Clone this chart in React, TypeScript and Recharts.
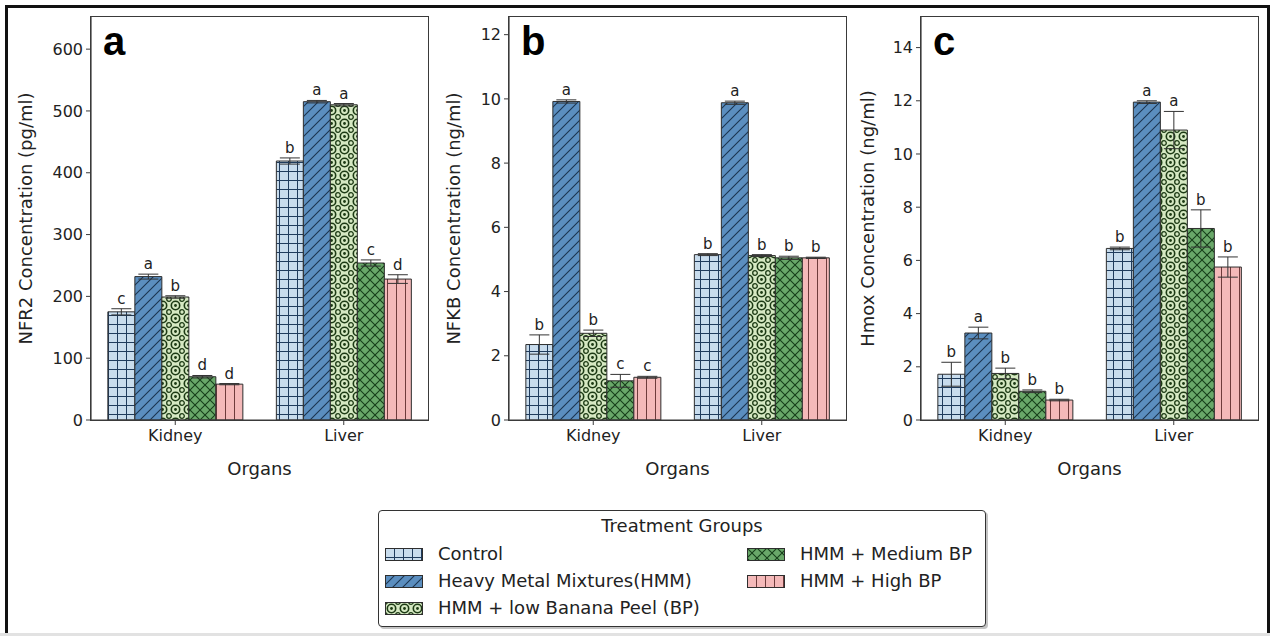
import React from "react";
import { BarChart, Bar, XAxis, YAxis, ErrorBar, LabelList } from "recharts";

const organs = ["Kidney", "Liver"];
const groupNames = [
  "Control",
  "Heavy Metal Mixtures(HMM)",
  "HMM + low Banana Peel (BP)",
  "HMM + Medium BP",
  "HMM + High BP",
];

// each entry is one treatment group: [Kidney, Liver]
const nfr2Means = [[175, 419], [232, 515], [199, 510], [70, 254], [58, 228]];
const nfr2Errors = [[5, 5], [4, 2], [2, 2], [2, 5], [1, 7]];
const nfr2Letters = [["c", "b"], ["a", "a"], ["b", "a"], ["d", "c"], ["d", "d"]];
const nfr2Ticks = [0, 100, 200, 300, 400, 500, 600];

const nfkbMeans = [[2.35, 5.15], [9.92, 9.88], [2.7, 5.12], [1.22, 5.05], [1.33, 5.05]];
const nfkbErrors = [[0.3, 0.03], [0.05, 0.05], [0.1, 0.03], [0.2, 0.05], [0.03, 0.02]];
const nfkbLetters = [["b", "b"], ["a", "a"], ["b", "b"], ["c", "b"], ["c", "b"]];
const nfkbTicks = [0, 2, 4, 6, 8, 10, 12];

const hmoxMeans = [[1.72, 6.45], [3.27, 11.95], [1.75, 10.9], [1.08, 7.2], [0.75, 5.75]];
const hmoxErrors = [[0.45, 0.05], [0.22, 0.05], [0.2, 0.7], [0.05, 0.7], [0.03, 0.38]];
const hmoxLetters = [["b", "b"], ["a", "a"], ["b", "a"], ["b", "b"], ["b", "b"]];
const hmoxTicks = [0, 2, 4, 6, 8, 10, 12, 14];

const FONT = "'DejaVu Sans', sans-serif";
const FRAME = "#3a3a3a";
const EDGE = "#2e2e2e";
const PLOT_W = 337;
const PLOT_TOP = 17;
const PLOT_H = 403;

function buildRows(means: number[][], errors: number[][], letters: string[][]) {
  return organs.map((organ, o) => {
    const row: any = { organ };
    groupNames.forEach((_, g) => {
      row[`m${g}`] = means[g][o];
      row[`e${g}`] = errors[g][o];
      row[`l${g}`] = letters[g][o];
    });
    return row;
  });
}

function Patterns() {
  return (
    <svg width={0} height={0} style={{ position: "absolute" }}>
      <defs>
        <pattern id="pat0" width={9} height={9} patternUnits="userSpaceOnUse">
          <rect width={9} height={9} fill="#c8dced" />
          <path d="M0 0.5 H9 M0.5 0 V9" stroke="#1f3b5c" strokeWidth={1} />
        </pattern>
        <pattern id="pat1" width={10} height={10} patternUnits="userSpaceOnUse">
          <rect width={10} height={10} fill="#5b8ebf" />
          <path d="M0 10 L10 0 M-2 2 L2 -2 M8 12 L12 8" stroke="#1b3451" strokeWidth={1.1} />
        </pattern>
        <pattern id="pat2" width={13} height={13} patternUnits="userSpaceOnUse">
          <rect width={13} height={13} fill="#d5e8c2" />
          <circle cx={6.5} cy={6.5} r={4.2} fill="none" stroke="#1c3a14" strokeWidth={1.6} />
          <circle cx={6.5} cy={6.5} r={1.4} fill="#1c3a14" />
          <circle cx={0} cy={0} r={2.3} fill="none" stroke="#1c3a14" strokeWidth={1.3} />
          <circle cx={13} cy={0} r={2.3} fill="none" stroke="#1c3a14" strokeWidth={1.3} />
          <circle cx={0} cy={13} r={2.3} fill="none" stroke="#1c3a14" strokeWidth={1.3} />
          <circle cx={13} cy={13} r={2.3} fill="none" stroke="#1c3a14" strokeWidth={1.3} />
        </pattern>
        <pattern id="pat3" width={10} height={10} patternUnits="userSpaceOnUse">
          <rect width={10} height={10} fill="#69a869" />
          <path d="M0 0 L10 10 M10 0 L0 10" stroke="#163f19" strokeWidth={1.1} />
        </pattern>
        <pattern id="pat4" width={9} height={9} patternUnits="userSpaceOnUse">
          <rect width={9} height={9} fill="#f4b9b9" />
          <path d="M0.5 0 V9" stroke="#6e3b3b" strokeWidth={1} />
        </pattern>
      </defs>
    </svg>
  );
}

const renderLetter = (p: any, rows: any[], g: number) => {
  const vb = p.viewBox && typeof p.viewBox.width === "number" ? p.viewBox : p;
  const row = rows[p.index];
  if (!row) return null;
  const h = Math.abs(vb.height);
  const top = Math.min(vb.y, vb.y + vb.height);
  const pxPerUnit = h / row[`m${g}`];
  const errTop = top - row[`e${g}`] * pxPerUnit;
  return (
    <text x={vb.x + vb.width / 2} y={errTop - 5} textAnchor="middle" fontSize={15} fill="#222" fontFamily={FONT}>
      {row[`l${g}`]}
    </text>
  );
};

interface PanelProps {
  left: number;
  axisWidth: number;
  titleX: number;
  rows: any[];
  ticks: number[];
  domainMax: number;
  yTitle: string;
  letter: string;
}

function Panel({ left, axisWidth, titleX, rows, ticks, domainMax, yTitle, letter }: PanelProps) {
  const width = axisWidth + PLOT_W + 2;

  const yLabel = (props: any) => {
    const vb = props.viewBox;
    const cx = vb.x + titleX;
    const cy = vb.y + vb.height / 2;
    return (
      <g>
        <text
          x={cx}
          y={cy}
          transform={`rotate(-90 ${cx} ${cy})`}
          textAnchor="middle"
          dominantBaseline="central"
          fontSize={18}
          fill="#222"
          fontFamily={FONT}
        >
          {yTitle}
        </text>
        <text
          x={vb.x + vb.width + 12}
          y={vb.y + 38}
          fontSize={40}
          fontWeight="bold"
          fill="#000"
          fontFamily="'Liberation Sans', Arial, sans-serif"
        >
          {letter}
        </text>
      </g>
    );
  };

  const xLabel = (props: any) => {
    const vb = props.viewBox;
    return (
      <text
        x={vb.x + vb.width / 2}
        y={vb.y + 48}
        textAnchor="middle"
        dominantBaseline="central"
        fontSize={18}
        fill="#222"
        fontFamily={FONT}
      >
        Organs
      </text>
    );
  };

  return (
    <div style={{ position: "absolute", left, top: 0 }}>
      <BarChart
        width={width}
        height={490}
        data={rows}
        margin={{ top: PLOT_TOP, right: 2, bottom: 0, left: 0 }}
        barCategoryGap="10%"
        barGap={0}
      >
        <XAxis
          dataKey="organ"
          height={70}
          tickSize={5}
          tickMargin={5}
          axisLine={{ stroke: FRAME, strokeWidth: 1.2 }}
          tickLine={{ stroke: FRAME }}
          tick={{ fill: "#222", fontSize: 16, fontFamily: FONT }}
          label={xLabel}
        />
        <YAxis
          type="number"
          domain={[0, domainMax]}
          ticks={ticks}
          width={axisWidth}
          tickSize={5}
          tickMargin={3}
          axisLine={{ stroke: FRAME, strokeWidth: 1.2 }}
          tickLine={{ stroke: FRAME }}
          tick={{ fill: "#222", fontSize: 16, fontFamily: FONT }}
          label={yLabel}
        />
        {groupNames.map((name, g) => (
          <Bar
            key={name}
            dataKey={`m${g}`}
            name={name}
            fill={`url(#pat${g})`}
            stroke={EDGE}
            strokeWidth={1}
            isAnimationActive={false}
          >
            <ErrorBar dataKey={`e${g}`} width={10} stroke="#333" strokeWidth={1} />
            <LabelList dataKey={`l${g}`} content={(p: any) => renderLetter(p, rows, g)} />
          </Bar>
        ))}
      </BarChart>
      <div
        style={{
          position: "absolute",
          left: axisWidth - 0.6,
          top: PLOT_TOP - 0.6,
          width: PLOT_W + 1.2,
          height: PLOT_H + 1.2,
          border: `1.2px solid ${FRAME}`,
          boxSizing: "border-box",
          pointerEvents: "none",
        }}
      />
    </div>
  );
}

function LegendBox() {
  const col1 = [0, 1, 2];
  const col2 = [3, 4];
  const rowY = [43, 70, 97];
  const item = (g: number, i: number, patchX: number, textX: number) => (
    <div key={g} style={{ position: "absolute", left: 0, top: rowY[i] - 11, height: 22, width: "100%" }}>
      <svg width={38} height={13} style={{ position: "absolute", left: patchX, top: 5 }}>
        <rect x={0.5} y={0.5} width={37} height={12} fill={`url(#pat${g})`} stroke={EDGE} strokeWidth={1} />
      </svg>
      <span style={{ position: "absolute", left: textX, top: 0, lineHeight: "22px", whiteSpace: "nowrap" }}>
        {groupNames[g]}
      </span>
    </div>
  );
  return (
    <div
      style={{
        position: "absolute",
        left: 378,
        top: 510,
        width: 606,
        height: 115,
        border: "1.5px solid #333",
        borderRadius: 4,
        boxShadow: "2px 2px 0 #c4c4c4",
        background: "#fff",
        fontFamily: FONT,
        fontSize: 18,
        color: "#222",
      }}
    >
      <div style={{ position: "absolute", left: 0, right: 0, top: 4, textAlign: "center", lineHeight: "22px" }}>
        Treatment Groups
      </div>
      {col1.map((g, i) => item(g, i, 6, 59))}
      {col2.map((g, i) => item(g, i, 368, 421))}
    </div>
  );
}

export default function App() {
  const nfr2Rows = buildRows(nfr2Means, nfr2Errors, nfr2Letters);
  const nfkbRows = buildRows(nfkbMeans, nfkbErrors, nfkbLetters);
  const hmoxRows = buildRows(hmoxMeans, hmoxErrors, hmoxLetters);

  return (
    <div style={{ position: "absolute", left: 0, top: 0, width: 1270, height: 636, background: "#fff", overflow: "hidden" }}>
      <Patterns />
      <div
        style={{
          position: "absolute",
          left: 5,
          top: 5,
          width: 1259,
          height: 628,
          borderTop: "3px solid #111",
          borderLeft: "3px solid #111",
          borderRight: "3px solid #111",
        }}
      />
      <div style={{ position: "absolute", left: 0, top: 633, width: 1270, height: 3, background: "#e2e2e2" }} />
      <Panel
        left={0}
        axisWidth={91}
        titleX={25}
        rows={nfr2Rows}
        ticks={nfr2Ticks}
        domainMax={652}
        yTitle="NFR2 Concentration (pg/ml)"
        letter="a"
      />
      <Panel
        left={430}
        axisWidth={79}
        titleX={23}
        rows={nfkbRows}
        ticks={nfkbTicks}
        domainMax={12.55}
        yTitle="NFKB Concentration (ng/ml)"
        letter="b"
      />
      <Panel
        left={852}
        axisWidth={69}
        titleX={15}
        rows={hmoxRows}
        ticks={hmoxTicks}
        domainMax={15.15}
        yTitle="Hmox Concentration (ng/ml)"
        letter="c"
      />
      <LegendBox />
    </div>
  );
}
